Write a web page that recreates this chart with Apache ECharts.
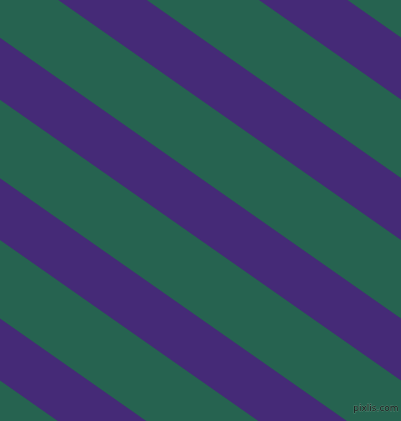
<!DOCTYPE html>
<html>
<head>
<meta charset="utf-8">
<script src="https://cdn.jsdelivr.net/npm/echarts@6/dist/echarts.min.js"></script>
<style>
html,body{margin:0;padding:0;background:#266350;}
#c{width:401px;height:421px;}
</style>
</head>
<body>
<div id="c"></div>
<script>
// Stripe left edges where each purple band meets the top edge (pixels along x)
const stripeStarts = [-543.5, -342.9, -142.3, 58.3, 259.0];
// Horizontal width of each purple band
const stripeWidths = [88.5, 88.5, 88.5, 88.5, 88.5];
// Slope of the bands (tan 35°)
const stripeSlope = 0.7002;
const canvasW = 401, canvasH = 421;
const watermark = 'pixlis.com';

const chart = echarts.init(document.getElementById('c'), null, {renderer: 'canvas'});
const data = stripeStarts.map((s, i) => [s, stripeWidths[i]]);

chart.setOption({
  backgroundColor: '#266350',
  animation: false,
  grid: {left: 0, right: 0, top: 0, bottom: 0},
  xAxis: {type: 'value', min: 0, max: canvasW, show: false},
  yAxis: {type: 'value', min: 0, max: canvasH, inverse: true, show: false},
  series: [{
    type: 'custom',
    clip: true,
    data: data,
    renderItem: function (params, api) {
      const s = api.value(0), w = api.value(1);
      const dx = canvasH / stripeSlope;
      const pts = [
        api.coord([s, 0]),
        api.coord([s + w, 0]),
        api.coord([s + w + dx, canvasH]),
        api.coord([s + dx, canvasH])
      ];
      return {
        type: 'polygon',
        shape: {points: pts},
        style: {fill: '#452A77'}
      };
    }
  }],
  graphic: [{
    type: 'text',
    right: 2,
    bottom: 7,
    style: {
      text: watermark,
      font: '9px "DejaVu Sans", sans-serif',
      fill: '#1a1a1a',
      stroke: 'rgba(120,160,140,0.6)',
      lineWidth: 0.8
    }
  }]
});
</script>
</body>
</html>
